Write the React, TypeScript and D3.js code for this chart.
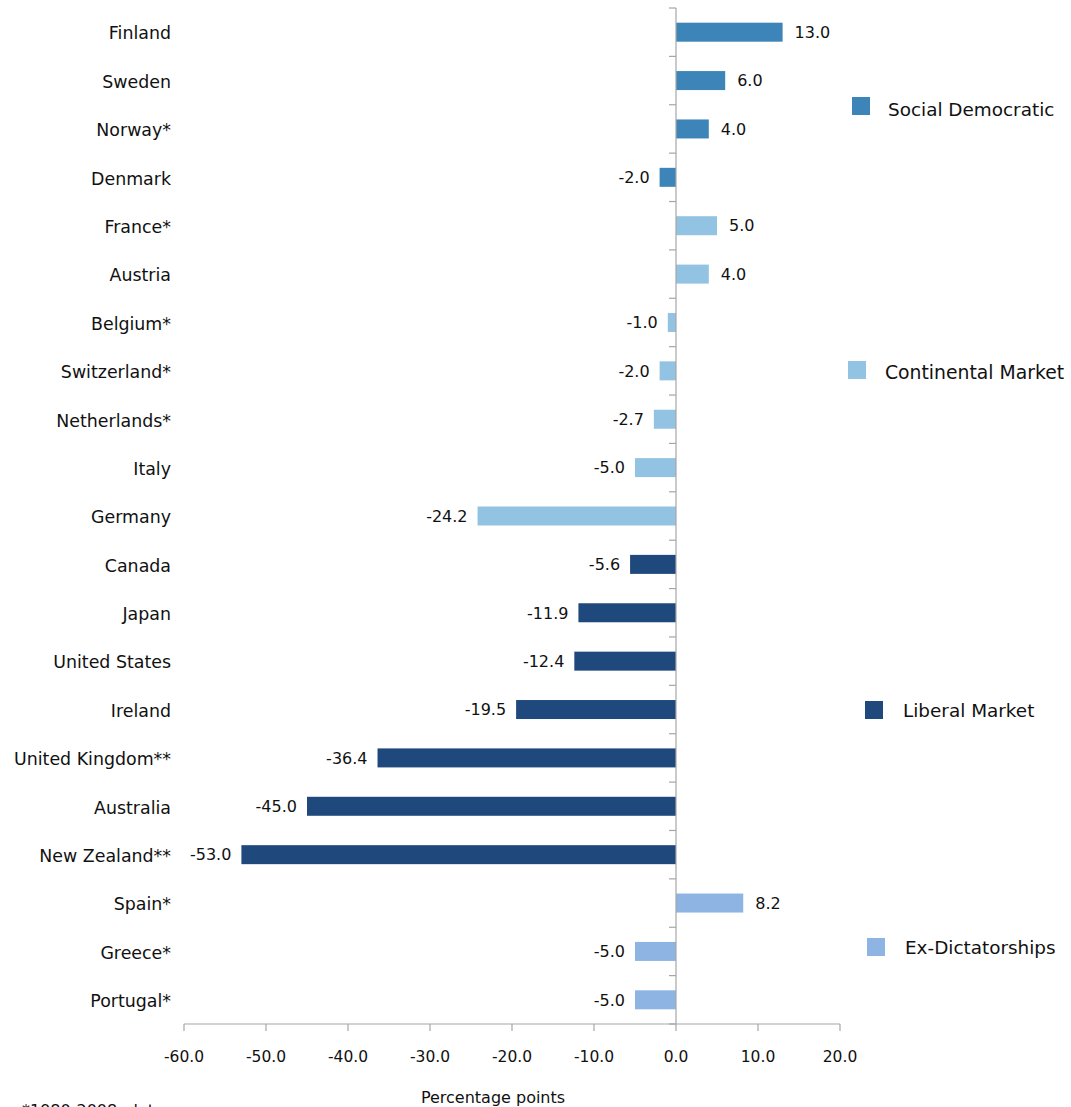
import React from "react";
import * as d3 from "d3";

const countries = [
  "Finland", "Sweden", "Norway*", "Denmark",
  "France*", "Austria", "Belgium*", "Switzerland*", "Netherlands*", "Italy", "Germany",
  "Canada", "Japan", "United States", "Ireland", "United Kingdom**", "Australia", "New Zealand**",
  "Spain*", "Greece*", "Portugal*",
];
const values = [
  13.0, 6.0, 4.0, -2.0,
  5.0, 4.0, -1.0, -2.0, -2.7, -5.0, -24.2,
  -5.6, -11.9, -12.4, -19.5, -36.4, -45.0, -53.0,
  8.2, -5.0, -5.0,
];
const groupOf = [
  0, 0, 0, 0,
  1, 1, 1, 1, 1, 1, 1,
  2, 2, 2, 2, 2, 2, 2,
  3, 3, 3,
];
const groupNames = ["Social Democratic", "Continental Market", "Liberal Market", "Ex-Dictatorships"];
const groupColors = ["#3d85b9", "#93c3e2", "#1f497d", "#8eb4e3"];
const xTicks = [-60, -50, -40, -30, -20, -10, 0, 10, 20];

// legend layout (position only)
const legendPos = [
  { x: 852, y: 97, tx: 888, ty: 109, fs: 18.4 },
  { x: 848, y: 361, tx: 885, ty: 372, fs: 18.8 },
  { x: 865, y: 701, tx: 903, ty: 710, fs: 18.4 },
  { x: 867, y: 938, tx: 905, ty: 947, fs: 18.4 },
];

export default function App() {
  const W = 1071, H = 1107;
  const x = d3.scaleLinear().domain([-60, 20]).range([184, 840]);
  const step = (1024 - 8) / countries.length;
  const bandTop = 8;
  const bh = 19;
  const font = "'DejaVu Sans', Verdana, sans-serif";
  const axisColor = "#a6a6a6";
  return (
    <svg width={W} height={H} style={{ position: "absolute", left: 0, top: 0, background: "#fff" }} fontFamily={font}>
      {/* bars */}
      {countries.map((c, i) => {
        const cy = bandTop + step * (i + 0.5);
        const v = values[i];
        const x0 = x(Math.min(0, v));
        const x1 = x(Math.max(0, v));
        return (
          <g key={c}>
            <rect x={x0} y={cy - bh / 2} width={x1 - x0} height={bh} fill={groupColors[groupOf[i]]} />
            <text x={v >= 0 ? x1 + 12 : x0 - 10} y={cy} dy="0.36em" fontSize={16}
              textAnchor={v >= 0 ? "start" : "end"} fill="#111">{v.toFixed(1)}</text>
            <text x={171} y={cy + 1} dy="0.36em" fontSize={17.4} textAnchor="end" fill="#111">{c}</text>
          </g>
        );
      })}
      {/* y axis */}
      <line x1={x(0)} x2={x(0)} y1={bandTop} y2={1024} stroke={axisColor} strokeWidth={1.2} />
      {d3.range(countries.length + 1).map((k) => (
        <line key={k} x1={x(0) - 7} x2={x(0)} y1={bandTop + step * k} y2={bandTop + step * k} stroke={axisColor} strokeWidth={1.2} />
      ))}
      {/* x axis */}
      <line x1={x(-60)} x2={x(20)} y1={1024} y2={1024} stroke={axisColor} strokeWidth={1.2} />
      {xTicks.map((t) => (
        <g key={t}>
          <line x1={x(t)} x2={x(t)} y1={1024} y2={1031} stroke={axisColor} strokeWidth={1.2} />
          <text x={x(t)} y={1056} dy="0.36em" fontSize={15.5} textAnchor="middle" fill="#111">{t.toFixed(1)}</text>
        </g>
      ))}
      <text x={493} y={1097} dy="0.36em" fontSize={16} textAnchor="middle" fill="#111">Percentage points</text>
      {/* legend */}
      {groupNames.map((g, i) => (
        <g key={g}>
          <rect x={legendPos[i].x} y={legendPos[i].y} width={18} height={18} fill={groupColors[i]} />
          <text x={legendPos[i].tx} y={legendPos[i].ty} dy="0.36em" fontSize={legendPos[i].fs} fill="#111">{g}</text>
        </g>
      ))}
      <text x={22} y={1116} fontSize={16} fill="#111">*1980-2008; data</text>
    </svg>
  );
}
